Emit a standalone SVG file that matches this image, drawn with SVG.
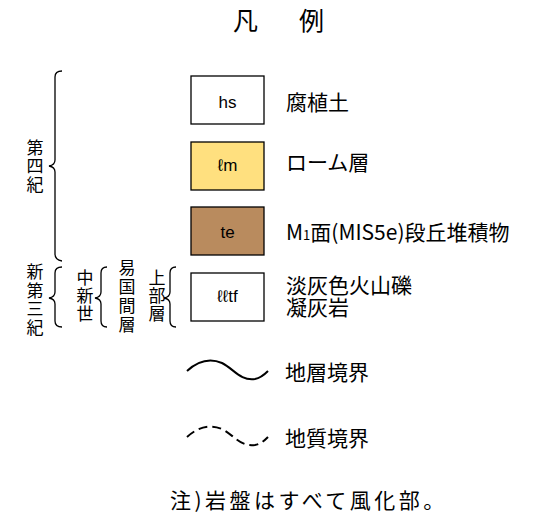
<svg xmlns="http://www.w3.org/2000/svg" width="546" height="513" viewBox="0 0 546 513">
<style>
.bg{fill:#ffffff}
.box{stroke:#000;stroke-width:1.3}
.lbl{font-family:"Liberation Sans",Arial,sans-serif;font-size:17px;fill:#000;text-anchor:middle}
.jp{font-family:"Noto Sans CJK JP","Noto Sans",sans-serif;font-size:21px;fill:#000}
.vt{font-family:"Noto Sans CJK JP","Noto Sans",sans-serif;font-size:17px;fill:#000;writing-mode:vertical-rl;text-orientation:upright}
.brk{fill:none;stroke:#000;stroke-width:1.3}
.wave{fill:none;stroke:#000;stroke-width:2}
.dash{stroke-dasharray:9 5}
</style>
<rect class="bg" x="0" y="0" width="546" height="513"/>
<g id="title">
<text class="jp" style="font-size:25px" x="233" y="30">凡</text>
<text class="jp" style="font-size:25px" x="299" y="30">例</text>
</g>
<g id="hs">
<rect class="box" x="191" y="76" width="73" height="48" fill="#ffffff"/>
<text class="lbl" x="227.5" y="108">hs</text>
<text class="jp" x="286" y="110">腐植土</text>
</g>
<g id="lm">
<rect class="box" x="191" y="142" width="73" height="48" fill="#FFE07F"/>
<text class="lbl" x="227.5" y="171">ℓm</text>
<text class="jp" x="286" y="170">ローム層</text>
</g>
<g id="te">
<rect class="box" x="191" y="207" width="73" height="48" fill="#B98B5E"/>
<text class="lbl" x="227.5" y="238">te</text>
<text class="jp" x="286" y="240">M<tspan style="font-size:13px">1</tspan>面(MIS5e)段丘堆積物</text>
</g>
<g id="lltf">
<rect class="box" x="191" y="273" width="73" height="48" fill="#ffffff"/>
<text class="lbl" x="227.5" y="302">ℓℓtf</text>
<text class="jp"><tspan x="286" y="293">淡灰色火山礫</tspan><tspan x="286" y="315">凝灰岩</tspan></text>
</g>
<g id="era-labels">
<text class="vt" style="letter-spacing:1.5px" x="35" y="139">第四紀</text>
<text class="vt" style="letter-spacing:1.5px" x="35" y="263.5">新第三紀</text>
<text class="vt" style="letter-spacing:0.8px" x="85" y="269.5">中新世</text>
<text class="vt" style="letter-spacing:1.8px" x="127" y="259.5">易国間層</text>
<text class="vt" style="letter-spacing:0.8px" x="157" y="269.5">上部層</text>
</g>
<g id="brackets">
<path class="brk" d="M62,71 Q55,71 55,77 L55,160 Q55,165 49,166 Q55,167 55,172 L55,254 Q55,260 62,261"/>
<path class="brk" d="M62,267 Q55,267 55,273 L55,292 Q55,297 49,298 Q55,299 55,304 L55,321 Q55,327 62,327"/>
<path class="brk" d="M107,267 Q101,267 101,273 L101,292 Q101,297 95,298 Q101,299 101,304 L101,321 Q101,327 107,327"/>
<path class="brk" d="M176,267 Q170,267 170,273 L170,292 Q170,297 164,298 Q170,299 170,304 L170,321 Q170,327 176,327"/>
</g>
<g id="connectors">
<path class="wave" d="M187,371 C198,361 210,358 222,363 C234,369 240,381 255,379 C261,378 265,374 268,371"/>
<path class="wave dash" d="M187,437 C198,427 210,424 222,429 C234,435 240,447 255,445 C261,444 265,440 268,437"/>
</g>
<g id="boundary-labels">
<text class="jp" x="285" y="380">地層境界</text>
<text class="jp" x="285" y="446">地質境界</text>
</g>
<g id="note">
<text class="jp" style="letter-spacing:3.5px" x="170" y="508">注)岩盤はすべて風化部。</text>
</g>
</svg>
